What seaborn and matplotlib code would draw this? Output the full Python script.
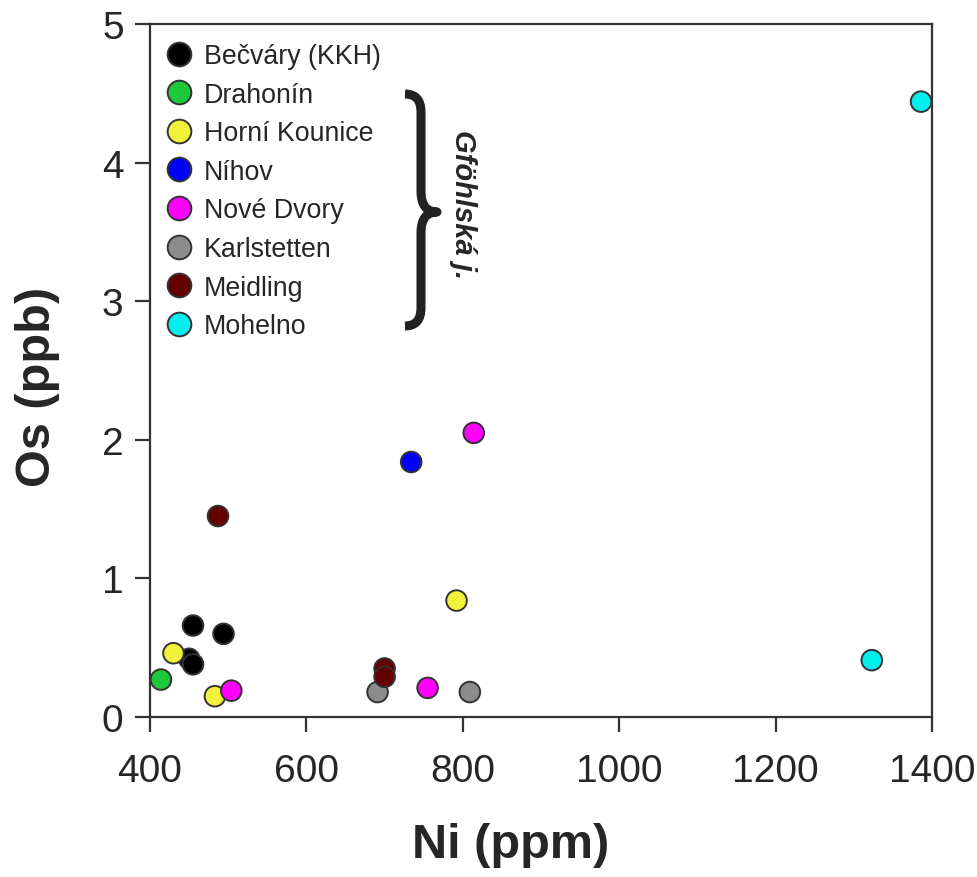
import matplotlib
matplotlib.use("Agg")
import matplotlib.pyplot as plt
import numpy as np
import pandas as pd
import seaborn as sns
from matplotlib.path import Path
from matplotlib.patches import PathPatch

# ---------------- data ----------------
localities = ["Bečváry (KKH)", "Drahonín", "Horní Kounice", "Níhov",
              "Nové Dvory", "Karlstetten", "Meidling", "Mohelno"]
colors = ["#000000", "#1ec83c", "#f2f23c", "#0000ff",
          "#ff00ff", "#8c8c8c", "#640000", "#00f0f0"]

ni_becvary = [455, 494, 450, 455]
os_becvary = [0.66, 0.60, 0.42, 0.38]
ni_drahonin = [414]
os_drahonin = [0.27]
ni_horni = [430, 483, 792]
os_horni = [0.46, 0.15, 0.84]
ni_nihov = [734]
os_nihov = [1.84]
ni_nove = [504, 755, 814]
os_nove = [0.19, 0.21, 2.05]
ni_karl = [691, 809]
os_karl = [0.18, 0.18]
ni_meid = [487, 700, 700]
os_meid = [1.45, 0.35, 0.29]
ni_mohel = [1323, 1386]
os_mohel = [0.41, 4.44]

x_ticks = [400, 600, 800, 1000, 1200, 1400]
y_ticks = [0, 1, 2, 3, 4, 5]

ni_all = [ni_becvary, ni_drahonin, ni_horni, ni_nihov, ni_nove, ni_karl, ni_meid, ni_mohel]
os_all = [os_becvary, os_drahonin, os_horni, os_nihov, os_nove, os_karl, os_meid, os_mohel]
rows = []
for loc, nis, oss in zip(localities, ni_all, os_all):
    for n, o in zip(nis, oss):
        rows.append({"Ni": n, "Os": o, "loc": loc})
df = pd.DataFrame(rows)

# ---------------- style ----------------
sns.set_style("ticks")
plt.rcParams["font.family"] = ["Liberation Sans", "DejaVu Sans"]
TXT = "#262626"

W, H = 977, 878
fig = plt.figure(figsize=(W / 100, H / 100), dpi=100)
L, R, T, B = 150, 932, 25, 718
ax = fig.add_axes([L / W, (H - B) / H, (R - L) / W, (B - T) / H])

sns.scatterplot(data=df, x="Ni", y="Os", hue="loc", hue_order=localities,
                palette=colors, s=220, edgecolor="#333333", linewidth=1.4,
                ax=ax, zorder=3, clip_on=False)

ax.set_xlim(400, 1400)
ax.set_ylim(0, 5)
ax.set_xticks(x_ticks)
ax.set_yticks(y_ticks)
ax.set_xlabel("")
ax.set_ylabel("")
for sp in ax.spines.values():
    sp.set_linewidth(1.6)
    sp.set_color("#333333")
ax.tick_params(axis="both", direction="out", length=11, width=1.6,
               color="#333333", labelsize=28, labelcolor=TXT)
ax.tick_params(axis="x", pad=15)
ax.tick_params(axis="y", pad=8)

fig.text(511 / W, 1 - 846 / H, "Ni (ppm)", fontsize=35, fontweight="bold",
         color=TXT, ha="center", va="center")
fig.text(38 / W, 1 - 387 / H, "Os (ppb)", fontsize=35, fontweight="bold",
         color=TXT, ha="center", va="center", rotation=90)

# legend
handles, labels = ax.get_legend_handles_labels()
ax.legend(handles, labels, loc="upper left",
          bbox_to_anchor=((166 - L) / (R - L), (B - 44) / (B - T)),
          frameon=False, markerscale=1.15, fontsize=19.3, handlelength=1.0,
          handletextpad=0.4, labelspacing=0.47, borderaxespad=0, borderpad=0,
          labelcolor=TXT)

# brace
def px(x, y):
    return ((x - L) / (R - L), (B - y) / (B - T))

verts = [px(405, 95), px(421, 95), px(421, 113), px(421, 192),
         px(421, 213), px(437, 213), px(421, 213), px(421, 234),
         px(421, 309), px(421, 327), px(405, 327)]
codes = [Path.MOVETO, Path.CURVE3, Path.CURVE3, Path.LINETO,
         Path.CURVE3, Path.CURVE3, Path.CURVE3, Path.CURVE3,
         Path.LINETO, Path.CURVE3, Path.CURVE3]
brace = PathPatch(Path(verts, codes), transform=ax.transAxes, fill=False,
                  lw=6.5, edgecolor="#222222", capstyle="butt", joinstyle="round")
ax.add_patch(brace)
tx, ty = px(463, 205)
ax.text(tx, ty, "Gföhlská j.", transform=ax.transAxes, rotation=-90,
        fontsize=21, fontweight="bold", fontstyle="italic", color=TXT,
        ha="center", va="center")

fig.savefig("out.png", dpi=100)
